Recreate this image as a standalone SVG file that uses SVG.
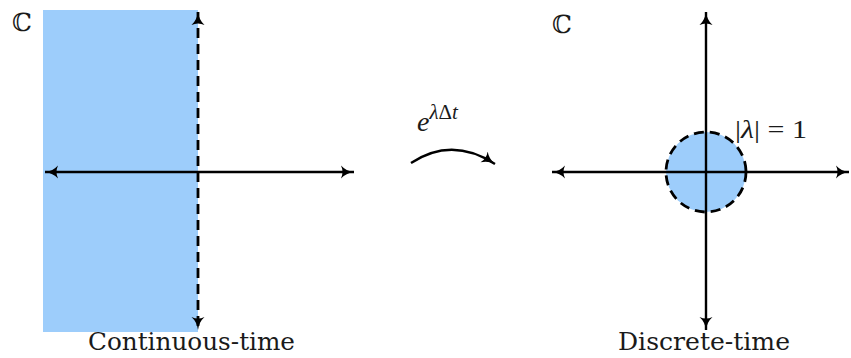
<svg xmlns="http://www.w3.org/2000/svg" width="851" height="358" viewBox="0 0 851 358">
  <style>
    .axis { stroke: #000; stroke-width: 2.4; fill: none; }
    .dash { stroke: #000; stroke-width: 2.8; fill: none; stroke-dasharray: 10 6; }
    .region { fill: #9dcdfb; }
    .lbl { font-family: "DejaVu Serif", "Liberation Serif", serif; fill: #1a1a1a; }
    .math { font-family: "Liberation Serif", "DejaVu Serif", serif; font-style: italic; fill: #1a1a1a; }
  </style>
  <defs>
    <marker id="tip" viewBox="0 0 14 14" refX="13" refY="7" markerWidth="14" markerHeight="14" markerUnits="userSpaceOnUse" orient="auto-start-reverse">
      <path d="M0,0.5 Q5,6 13,7 Q5,8 0,13.5 Q3,7 0,0.5 Z" fill="#000"/>
    </marker>
  </defs>

  <!-- continuous-time plane -->
  <g id="continuous">
    <rect class="region" x="43" y="10" width="155" height="322"/>
    <text class="lbl" x="12" y="31" font-size="25">ℂ</text>
    <text class="lbl" x="88" y="350" font-size="24" textLength="207" lengthAdjust="spacingAndGlyphs">Continuous-time</text>
  </g>

  <!-- discrete-time plane -->
  <g id="discrete">
    <circle class="region" cx="706" cy="172" r="40"/>
    <text class="lbl" x="552" y="33" font-size="25">ℂ</text>
    <text class="lbl" x="618" y="350" font-size="24" textLength="172" lengthAdjust="spacingAndGlyphs">Discrete-time</text>
    <text class="math" x="735" y="138" font-size="26" textLength="72" lengthAdjust="spacingAndGlyphs"><tspan font-style="normal">|</tspan>λ<tspan font-style="normal">| = 1</tspan></text>
  </g>

  <!-- map label -->
  <g id="map">
    <text class="math" x="417" y="131" font-size="28">e<tspan dy="-12" font-size="21">λ<tspan font-style="normal">Δ</tspan>t</tspan></text>
  </g>

  <g id="connectors">
    <!-- left axes -->
    <line class="axis" x1="45" y1="172" x2="354" y2="172" marker-start="url(#tip)" marker-end="url(#tip)"/>
    <line class="dash" x1="198" y1="12" x2="198" y2="330" marker-start="url(#tip)" marker-end="url(#tip)"/>
    <!-- right axes -->
    <line class="axis" x1="552" y1="172" x2="849" y2="172" marker-start="url(#tip)" marker-end="url(#tip)"/>
    <line class="axis" x1="706" y1="12" x2="706" y2="330" marker-start="url(#tip)" marker-end="url(#tip)"/>
    <circle class="dash" cx="706" cy="172" r="40"/>
    <!-- mapping arrow -->
    <path class="axis" d="M411,163 Q452,136 495,164" marker-end="url(#tip)"/>
  </g>
</svg>
